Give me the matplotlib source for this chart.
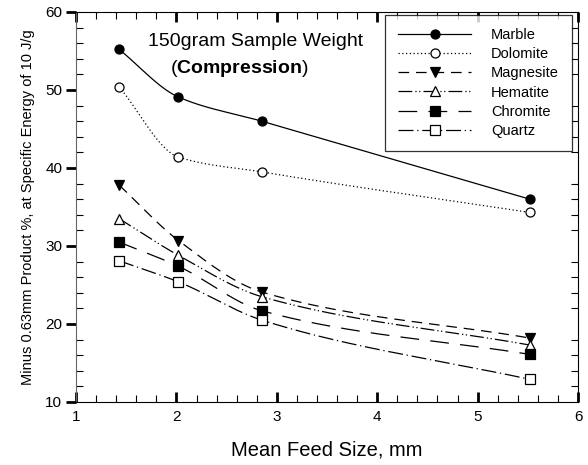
import numpy as np
import matplotlib
matplotlib.use('Agg')
import matplotlib.pyplot as plt
from matplotlib.ticker import MultipleLocator

plt.rcParams['font.family'] = ['Liberation Sans', 'DejaVu Sans']
plt.rcParams['mathtext.fontset'] = 'custom'
plt.rcParams['mathtext.bf'] = 'Liberation Sans:bold'
plt.rcParams['mathtext.rm'] = 'Liberation Sans'

# Daten
feed_size = [1.43, 2.02, 2.85, 5.52]
marble = [55.2, 49.1, 46.0, 36.0]
dolomite = [50.4, 41.4, 39.5, 34.3]
magnesite = [37.8, 30.7, 24.1, 18.2]
hematite = [33.5, 28.8, 23.5, 17.3]
chromite = [30.5, 27.4, 21.7, 16.1]
quartz = [28.1, 25.4, 20.5, 12.9]

series = [
    ('Marble', marble, '-', 'o', 'black'),
    ('Dolomite', dolomite, (0, (1, 2)), 'o', 'white'),
    ('Magnesite', magnesite, (0, (8.5, 5.5)), 'v', 'black'),
    ('Hematite', hematite, (0, (11, 2.5, 1, 2, 1, 2.5)), '^', 'white'),
    ('Chromite', chromite, (0, (15, 9)), 's', 'black'),
    ('Quartz', quartz, (0, (12, 3, 1, 3)), 's', 'white'),
]


def smooth(x, y, n=200):
    # monotone kubische Kurve (Fritsch-Carlson), nur fuer die Linienform
    x = np.asarray(x, float)
    y = np.asarray(y, float)
    h = np.diff(x)
    d = np.diff(y) / h
    m = np.zeros_like(y)
    m[0], m[-1] = d[0], d[-1]
    for k in range(1, len(x) - 1):
        if d[k - 1] * d[k] > 0:
            w1 = 2 * h[k] + h[k - 1]
            w2 = h[k] + 2 * h[k - 1]
            m[k] = (w1 + w2) / (w1 / d[k - 1] + w2 / d[k])
    xs, ys = [], []
    for k in range(len(x) - 1):
        t = np.linspace(0, 1, n)
        h00 = 2 * t**3 - 3 * t**2 + 1
        h10 = t**3 - 2 * t**2 + t
        h01 = -2 * t**3 + 3 * t**2
        h11 = t**3 - t**2
        xs.append(x[k] + t * h[k])
        ys.append(h00 * y[k] + h10 * h[k] * m[k] + h01 * y[k + 1] + h11 * h[k] * m[k + 1])
    return np.concatenate(xs), np.concatenate(ys)


fig = plt.figure(figsize=(5.88, 4.65), dpi=100)
ax = fig.add_axes([0.1293, 0.1355, 0.8537, 0.8387])

for name, vals, ls, mk, fc in series:
    sx, sy = smooth(feed_size, vals)
    ax.plot(sx, sy, color='black', lw=0.9, ls=ls)
    ax.plot(feed_size, vals, ls='none', marker=mk, ms=6.5, mfc=fc, mec='black', mew=0.9)
    # Legenden-Eintrag
    ax.plot([], [], color='black', lw=0.9, ls=ls, marker=mk, ms=6.5, mfc=fc,
            mec='black', mew=0.9, label=name)

ax.set_xlim(1, 6)
ax.set_ylim(10, 60)
ax.xaxis.set_major_locator(MultipleLocator(1))
ax.xaxis.set_minor_locator(MultipleLocator(0.2))
ax.yaxis.set_major_locator(MultipleLocator(10))
ax.yaxis.set_minor_locator(MultipleLocator(2))
ax.tick_params(axis='x', which='major', direction='in', length=7, width=2,
               top=True, labelsize=11, pad=6)
ax.tick_params(axis='y', which='major', direction='out', length=7, width=2,
               right=False, labelsize=11, pad=3)
ax.tick_params(which='minor', direction='in', length=5, width=0.8, top=True, right=True)
for sp in ax.spines.values():
    sp.set_linewidth(0.8)
ax.spines['left'].set_color('#666666')

ax.set_xlabel('Mean Feed Size, mm', fontsize=14.5, labelpad=12)
ax.set_ylabel('Minus 0.63mm Product %, at Specific Energy of 10 J/g', fontsize=10.5, labelpad=7)

ax.text(1.72, 56.2, '150gram Sample Weight', fontsize=14, va='center', ha='left')
ax.text(1.94, 52.8, r'($\mathbf{Compression}$)', fontsize=14, va='center', ha='left')

leg = ax.legend(loc='upper right', bbox_to_anchor=(0.988, 0.993), fontsize=10.5,
                handlelength=5.0, frameon=True, fancybox=False, edgecolor='black',
                labelspacing=0.36, borderpad=0.9, handletextpad=1.37, borderaxespad=0)
leg.get_frame().set_linewidth(0.9)

fig.savefig('out.png', dpi=100)
